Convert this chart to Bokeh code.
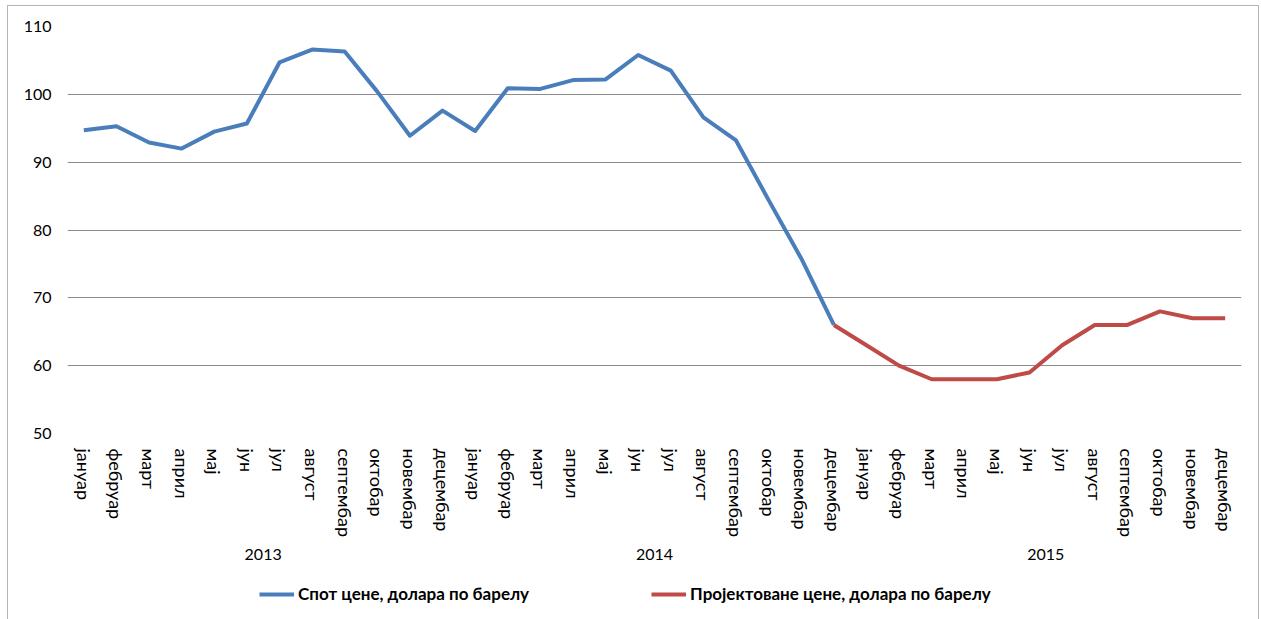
from bokeh.plotting import figure
from bokeh.layouts import column
from bokeh.models import FactorRange, FixedTicker, Legend, LegendItem
from bokeh.embed import file_html
from bokeh.resources import INLINE

years = ["2013", "2014", "2015"]
months = ["јануар", "фебруар", "март", "април", "мај", "јун", "јул",
          "август", "септембар", "октобар", "новембар", "децембар"]

spot_values = [94.7, 95.3, 92.9, 92.0, 94.5, 95.7, 104.7, 106.6, 106.3, 100.4, 93.9, 97.6,
               94.6, 100.9, 100.8, 102.1, 102.2, 105.8, 103.5, 96.6, 93.2, 84.4, 75.8, 66.0]
proj_values = [66.0, 63.0, 60.0, 58.0, 58.0, 58.0, 59.0, 63.0, 66.0, 66.0, 68.0, 67.0, 67.0]

spot_name = "Спот цене, долара по барелу"
proj_name = "Пројектоване цене, долара по барелу"
y_ticks = [50, 60, 70, 80, 90, 100, 110]

factors = [(y, m) for y in years for m in months]
spot_x = factors[:len(spot_values)]
proj_x = factors[len(spot_values) - 1:len(spot_values) - 1 + len(proj_values)]

FONT = "Lato"
BLUE = "#4A7EBB"
RED = "#BE4B48"

xr = FactorRange(*factors, factor_padding=0, group_padding=0,
                 subgroup_padding=0, range_padding=0)

p = figure(width=1250, height=572, output_backend="svg", toolbar_location=None,
           x_range=xr, y_range=(50, 110), min_border_left=59, min_border_right=17,
           min_border_top=20, min_border_bottom=145)
p.outline_line_color = None
p.background_fill_color = "white"
p.border_fill_color = "white"

p.line(spot_x, spot_values, line_color=BLUE, line_width=4, line_join="round")
p.line(proj_x, proj_values, line_color=RED, line_width=4, line_join="round")

p.xgrid.grid_line_color = None
p.ygrid.grid_line_color = "#8c8c8c"
p.ygrid.grid_line_width = 1
p.ygrid.ticker = FixedTicker(ticks=y_ticks)

p.yaxis.ticker = FixedTicker(ticks=y_ticks)
p.yaxis.axis_line_color = None
p.yaxis.major_tick_line_color = None
p.yaxis.minor_tick_line_color = None
p.yaxis.major_label_text_font = FONT
p.yaxis.major_label_text_font_size = "16px"
p.yaxis.major_label_text_color = "#000000"
p.yaxis.major_label_standoff = 10

xa = p.xaxis[0]
xa.axis_line_color = None
xa.major_tick_line_color = None
xa.minor_tick_line_color = None
xa.major_label_orientation = "vertical"
xa.major_label_text_font = FONT
xa.major_label_text_font_size = "18px"
xa.major_label_text_color = "#000000"
xa.major_label_standoff = 9
xa.group_text_font = FONT
xa.group_text_font_size = "16px"
xa.group_text_font_style = "normal"
xa.group_text_color = "#000000"
xa.group_label_orientation = "horizontal"
xa.separator_line_color = None

# legend strip (same series, drawn out of its visible y range so only the key shows)
lg = figure(width=1250, height=41, output_backend="svg", toolbar_location=None,
            x_range=xr, y_range=(0, 1), min_border=0,
            min_border_left=59, min_border_right=17)
lg.outline_line_color = None
lg.axis.visible = False
lg.grid.visible = False
lg.border_fill_color = "white"
k1 = lg.line(spot_x, spot_values, line_color=BLUE, line_width=4)
k2 = lg.line(proj_x, proj_values, line_color=RED, line_width=4)
legend = Legend(items=[LegendItem(label=spot_name, renderers=[k1]),
                       LegendItem(label=proj_name, renderers=[k2])],
                orientation="horizontal", location=(192, 15),
                label_text_font=FONT, label_text_font_size="17px",
                label_text_font_style="bold", label_text_color="#000000",
                glyph_width=35, glyph_height=20, label_standoff=4, spacing=122,
                padding=0, margin=0, border_line_color=None,
                background_fill_alpha=0)
lg.add_layout(legend, "center")

layout = column(p, lg, spacing=0)
layout.styles = {"margin-left": "7px", "margin-top": "5px",
                 "border-top": "1px solid #b5b5b5", "border-left": "1px solid #b5b5b5",
                 "border-right": "1px solid #b5b5b5"}

open("out.html", "w").write(file_html(layout, INLINE))
